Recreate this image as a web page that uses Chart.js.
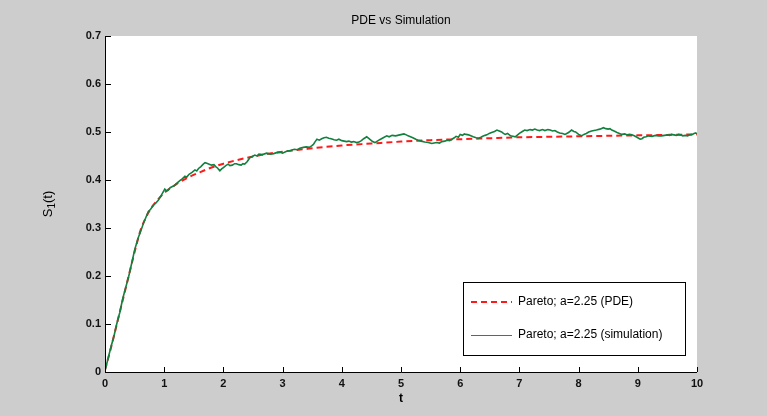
<!DOCTYPE html>
<html>
<head>
<meta charset="utf-8">
<script src="https://cdn.jsdelivr.net/npm/chart.js@4.4.1/dist/chart.umd.min.js"></script>
<style>
html,body{margin:0;padding:0;background:#cdcdcd;}
#wrap{width:767px;height:416px;position:relative;}
</style>
</head>
<body>
<div id="wrap"><canvas id="c" width="767" height="416"></canvas></div>
<script>
const chartTitle = "PDE vs Simulation";
const xTitle = "t";
const seriesNames = ["Pareto; a=2.25 (PDE)", "Pareto; a=2.25 (simulation)"];
const xTicks = [0,1,2,3,4,5,6,7,8,9,10];
const yTicks = [0,0.1,0.2,0.3,0.4,0.5,0.6,0.7];

const pdeT = [0,0.1,0.2,0.3,0.4,0.5,0.6,0.7,0.8,0.9,1.0,1.2,1.4,1.6,1.8,2.0,2.5,3.0,3.5,4.0,4.5,5.0,5.5,6.0,6.5,7.0,7.5,8.0,8.5,9.0,9.5,10];
const pdeV = [0.004,0.05,0.10,0.15,0.20,0.25,0.295,0.324,0.345,0.360,0.373,0.391,0.405,0.416,0.426,0.434,0.449,0.459,0.466,0.472,0.476,0.480,0.483,0.485,0.487,0.489,0.490,0.491,0.492,0.493,0.494,0.495];

const simT = [0,0.05,0.1,0.15,0.2,0.25,0.3,0.35,0.4,0.45,0.5,0.56,0.61,0.65,0.69,0.73,0.77,0.82,0.86,0.9,0.95,1.01,1.04,1.07,1.1,1.13,1.17,1.2,1.24,1.27,1.31,1.35,1.38,1.42,1.47,1.52,1.55,1.58,1.62,1.66,1.69,1.72,1.76,1.8,1.84,1.87,1.9,1.94,1.97,2.0,2.04,2.08,2.11,2.15,2.19,2.22,2.26,2.3,2.33,2.36,2.4,2.45,2.49,2.53,2.57,2.6,2.66,2.73,2.79,2.85,2.9,2.96,3.0,3.05,3.09,3.13,3.17,3.2,3.25,3.29,3.35,3.4,3.45,3.49,3.52,3.55,3.58,3.62,3.66,3.7,3.74,3.78,3.82,3.87,3.91,3.95,4.0,4.04,4.08,4.12,4.16,4.2,4.25,4.29,4.33,4.37,4.42,4.45,4.48,4.52,4.56,4.6,4.64,4.7,4.76,4.8,4.85,4.91,4.98,5.05,5.09,5.12,5.16,5.2,5.25,5.29,5.34,5.4,5.46,5.52,5.56,5.6,5.65,5.69,5.74,5.78,5.82,5.86,5.9,5.93,5.97,6.0,6.04,6.07,6.1,6.14,6.18,6.22,6.27,6.31,6.35,6.38,6.42,6.45,6.49,6.53,6.58,6.62,6.66,6.7,6.73,6.76,6.8,6.85,6.89,6.93,6.97,7.0,7.05,7.09,7.13,7.18,7.22,7.26,7.3,7.34,7.39,7.43,7.48,7.52,7.56,7.6,7.64,7.68,7.73,7.77,7.8,7.83,7.86,7.88,7.92,7.95,8.0,8.05,8.09,8.13,8.17,8.22,8.26,8.3,8.36,8.42,8.46,8.5,8.53,8.56,8.6,8.65,8.69,8.73,8.78,8.82,8.86,8.9,8.94,8.97,9.0,9.04,9.07,9.1,9.14,9.18,9.24,9.3,9.35,9.4,9.45,9.5,9.54,9.57,9.61,9.65,9.69,9.72,9.76,9.8,9.84,9.88,9.92,9.95,9.98,10];
const simV = [0.003,0.027,0.052,0.074,0.101,0.124,0.153,0.176,0.199,0.226,0.254,0.279,0.296,0.31,0.322,0.334,0.339,0.348,0.352,0.358,0.368,0.381,0.377,0.379,0.384,0.386,0.388,0.392,0.396,0.399,0.403,0.408,0.406,0.412,0.416,0.421,0.419,0.424,0.428,0.433,0.436,0.435,0.433,0.431,0.432,0.428,0.425,0.419,0.423,0.426,0.43,0.433,0.43,0.431,0.434,0.434,0.432,0.431,0.434,0.433,0.438,0.447,0.449,0.452,0.45,0.454,0.453,0.456,0.454,0.455,0.457,0.458,0.456,0.459,0.461,0.461,0.463,0.464,0.463,0.466,0.468,0.469,0.468,0.471,0.474,0.48,0.485,0.483,0.486,0.488,0.489,0.487,0.486,0.484,0.483,0.485,0.482,0.481,0.48,0.481,0.479,0.48,0.478,0.479,0.482,0.486,0.49,0.487,0.484,0.48,0.478,0.481,0.484,0.488,0.492,0.49,0.493,0.492,0.494,0.496,0.494,0.492,0.49,0.488,0.485,0.483,0.481,0.479,0.478,0.476,0.477,0.478,0.477,0.48,0.481,0.483,0.482,0.485,0.488,0.491,0.489,0.495,0.493,0.496,0.495,0.494,0.492,0.49,0.488,0.487,0.489,0.491,0.493,0.494,0.497,0.499,0.501,0.504,0.502,0.5,0.497,0.495,0.497,0.492,0.491,0.49,0.494,0.497,0.501,0.504,0.503,0.505,0.504,0.506,0.504,0.503,0.505,0.503,0.505,0.504,0.502,0.503,0.5,0.498,0.497,0.495,0.497,0.499,0.502,0.504,0.501,0.5,0.495,0.492,0.495,0.497,0.5,0.502,0.503,0.504,0.506,0.509,0.507,0.506,0.507,0.504,0.502,0.499,0.497,0.495,0.496,0.494,0.495,0.494,0.492,0.49,0.488,0.485,0.486,0.489,0.49,0.492,0.491,0.493,0.492,0.492,0.493,0.494,0.493,0.495,0.494,0.493,0.495,0.494,0.492,0.493,0.492,0.494,0.495,0.497,0.498,0.496,0.501];

const pts = (xs, ys) => xs.map((x, i) => ({x: x, y: ys[i]}));

const chrome = {
  id: 'chrome',
  beforeDraw(chart) {
    const ctx = chart.ctx, a = chart.chartArea;
    ctx.save();
    ctx.fillStyle = '#cdcdcd';
    ctx.fillRect(0, 0, chart.width, chart.height);
    ctx.fillStyle = '#ffffff';
    ctx.fillRect(a.left, a.top, a.right - a.left, a.bottom - a.top);
    ctx.restore();
  },
  afterDraw(chart) {
    const ctx = chart.ctx, a = chart.chartArea;
    const xs = chart.scales.x, ys = chart.scales.y;
    ctx.save();
    ctx.strokeStyle = '#000';
    ctx.lineWidth = 1;
    ctx.beginPath();
    ctx.moveTo(a.left + 0.5, a.top);
    ctx.lineTo(a.left + 0.5, a.bottom + 0.5);
    ctx.lineTo(a.right, a.bottom + 0.5);
    ctx.stroke();
    ctx.beginPath();
    xTicks.forEach(v => {
      const px = Math.round(xs.getPixelForValue(v)) + 0.5;
      ctx.moveTo(px, a.bottom);
      ctx.lineTo(px, a.bottom - 5);
    });
    yTicks.forEach(v => {
      const py = Math.round(ys.getPixelForValue(v)) + 0.5;
      ctx.moveTo(a.left, py);
      ctx.lineTo(a.left + 6, py);
    });
    ctx.stroke();
    ctx.fillStyle = '#000';
    ctx.font = '12px "Liberation Sans", Arial, sans-serif';
    ctx.textAlign = 'center';
    ctx.textBaseline = 'middle';
    ctx.fillText(chartTitle, (a.left + a.right) / 2, 21);
    ctx.font = 'bold 12px "Liberation Sans", Arial, sans-serif';
    ctx.fillText(xTitle, (a.left + a.right) / 2, 399);
    ctx.save();
    ctx.translate(48, (a.top + a.bottom) / 2);
    ctx.rotate(-Math.PI / 2);
    ctx.textAlign = 'left';
    ctx.textBaseline = 'middle';
    const big = '13px "Liberation Sans", Arial, sans-serif';
    const small = '10px "Liberation Sans", Arial, sans-serif';
    ctx.font = big;
    const w1 = ctx.measureText('S').width;
    ctx.font = small;
    const w2 = ctx.measureText('1').width;
    ctx.font = big;
    const w3 = ctx.measureText('(t)').width;
    let sx = -(w1 + w2 + w3) / 2;
    ctx.fillText('S', sx, 0);
    ctx.font = small;
    ctx.fillText('1', sx + w1, 4);
    ctx.font = big;
    ctx.fillText('(t)', sx + w1 + w2, 0);
    ctx.restore();
    const lx = 463, ly = 282, lw = 222, lh = 73;
    ctx.fillStyle = '#fff';
    ctx.fillRect(lx, ly, lw, lh);
    ctx.strokeStyle = '#000';
    ctx.lineWidth = 1;
    ctx.strokeRect(lx + 0.5, ly + 0.5, lw, lh);
    ctx.font = '12px "Liberation Sans", Arial, sans-serif';
    ctx.textAlign = 'left';
    ctx.textBaseline = 'middle';
    ctx.strokeStyle = '#ff1a1a';
    ctx.lineWidth = 2;
    ctx.setLineDash([6, 4]);
    ctx.beginPath();
    ctx.moveTo(471, 302);
    ctx.lineTo(512, 302);
    ctx.stroke();
    ctx.setLineDash([]);
    ctx.fillStyle = '#000';
    ctx.fillText(seriesNames[0], 518, 302);
    ctx.strokeStyle = '#1e8a50';
    ctx.lineWidth = 1;
    ctx.beginPath();
    ctx.moveTo(471, 335.5);
    ctx.lineTo(512, 335.5);
    ctx.stroke();
    ctx.fillText(seriesNames[1], 518, 335);
    ctx.restore();
  }
};

new Chart(document.getElementById('c'), {
  type: 'line',
  data: {
    datasets: [
      {
        label: seriesNames[0],
        data: pts(pdeT, pdeV),
        borderColor: '#ff1a1a',
        borderWidth: 2,
        borderDash: [6, 4],
        pointRadius: 0,
        cubicInterpolationMode: 'monotone',
        fill: false,
        order: 2
      },
      {
        label: seriesNames[1],
        data: pts(simT, simV),
        borderColor: '#12803f',
        borderWidth: 1.6,
        pointRadius: 0,
        tension: 0,
        fill: false,
        order: 1
      }
    ]
  },
  options: {
    responsive: false,
    animation: false,
    events: [],
    layout: { padding: { left: 0, right: 70, top: 36, bottom: 0 } },
    plugins: { legend: { display: false }, title: { display: false }, tooltip: { enabled: false } },
    scales: {
      x: {
        type: 'linear', min: 0, max: 10,
        afterFit(s) { s.height = 44; },
        afterBuildTicks(s) { s.ticks = xTicks.map(v => ({value: v})); },
        grid: { display: false, drawTicks: false },
        border: { display: false },
        ticks: { padding: 5, color: '#111', font: { family: '"Liberation Sans", Arial, sans-serif', size: 11, weight: 'bold' }, maxRotation: 0 }
      },
      y: {
        min: 0, max: 0.7,
        afterFit(s) { s.width = 105; },
        afterBuildTicks(s) { s.ticks = yTicks.map(v => ({value: v})); },
        grid: { display: false, drawTicks: false },
        border: { display: false },
        ticks: { padding: 4, color: '#111', font: { family: '"Liberation Sans", Arial, sans-serif', size: 11, weight: 'bold' },
          callback: v => v === 0 ? '0' : v.toFixed(1) }
      }
    }
  },
  plugins: [chrome]
});
</script>
</body>
</html>
